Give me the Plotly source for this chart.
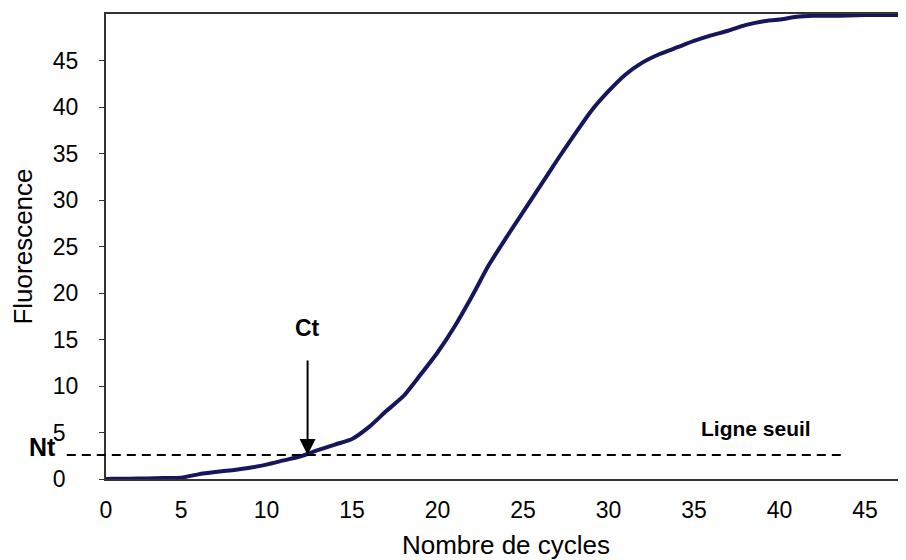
import plotly.graph_objects as go

# cycles and fluorescence
cycles = list(range(0, 49))
fluo = [0.0, 0.02, 0.03, 0.06, 0.1, 0.14, 0.5, 0.75, 0.95, 1.2,
        1.55, 2.0, 2.45, 3.1, 3.7, 4.3, 5.6, 7.3, 8.9, 11.2,
        13.6, 16.4, 19.6, 23.0, 25.9, 28.7, 31.5, 34.3, 37.0, 39.6,
        41.7, 43.5, 44.8, 45.7, 46.4, 47.1, 47.7, 48.2, 48.8, 49.2,
        49.4, 49.7, 49.8, 49.8, 49.85, 49.9, 49.9, 49.9, 49.9]

x_labels = ['0', '5', '10', '15', '20', '25', '30', '35', '40', '45']
y_ticks = [0, 5, 10, 15, 20, 25, 30, 35, 40, 45]
# one-digit labels padded so they line up on the left like the original
y_labels = [str(v) if v >= 10 else str(v) + '\u2007' for v in y_ticks]

CT = 12.4   # cycle seuil
NT = 2.58   # ligne seuil

x_range = [0.61, 47.4]
# the "0" label sits on the axis line, as in the original chart
x_tickvals = [x_range[0]] + [int(t) for t in x_labels[1:]]

fig = go.Figure()

fig.add_trace(go.Scatter(
    x=cycles,
    y=fluo,
    mode='lines',
    line=dict(color='#16165c', width=4, shape='spline', smoothing=0.6),
    showlegend=False,
    hoverinfo='skip'
))

# ligne seuil (dashed)
fig.add_shape(type='line', xref='paper', yref='y',
              x0=-0.049, x1=0.921, y0=NT, y1=NT,
              line=dict(color='black', width=2, dash='9px,6px'))

# arrow to Ct
fig.add_annotation(x=CT, y=NT, xref='x', yref='y', text='',
                   showarrow=True, ax=0, ay=-96,
                   arrowhead=2, arrowsize=1.6, arrowwidth=2, arrowcolor='black')

fig.add_annotation(x=CT, y=16.2, xref='x', yref='y', text='<b>Ct</b>',
                   showarrow=False, font=dict(size=23, color='black'))
fig.add_annotation(x=-0.079, y=3.45, xref='paper', yref='y', text='<b>Nt</b>',
                   xanchor='center', showarrow=False, font=dict(size=25, color='black'))
fig.add_annotation(x=38.6, y=5.4, xref='x', yref='y', text='<b>Ligne seuil</b>',
                   showarrow=False, font=dict(size=21, color='black'))

# the page adds an 8px body margin, so the margins are shifted to compensate
fig.update_layout(
    width=906,
    height=560,
    margin=dict(l=98, r=8, t=6, b=89),
    plot_bgcolor='white',
    paper_bgcolor='white',
    font=dict(family='Arial, Liberation Sans, sans-serif', color='black'),
    showlegend=False,
    xaxis=dict(
        range=x_range,
        tickvals=x_tickvals,
        ticktext=x_labels,
        ticks='',
        showgrid=False,
        zeroline=False,
        showline=True,
        mirror=True,
        linecolor='#333333',
        linewidth=2,
        tickfont=dict(size=23),
        ticklabelstandoff=9,
        automargin=False,
        title=dict(text='Nombre de cycles', font=dict(size=26), standoff=14),
    ),
    yaxis=dict(
        range=[0, 50],
        tickvals=y_ticks,
        ticktext=y_labels,
        ticks='outside',
        ticklen=5,
        tickcolor='#333333',
        showgrid=False,
        zeroline=False,
        showline=True,
        linecolor='#333333',
        linewidth=2,
        tickfont=dict(size=23),
        ticklabelstandoff=16,
        automargin=False,
        title=dict(text='Fluorescence', font=dict(size=26), standoff=16),
    ),
)

fig.write_html("out.html")
